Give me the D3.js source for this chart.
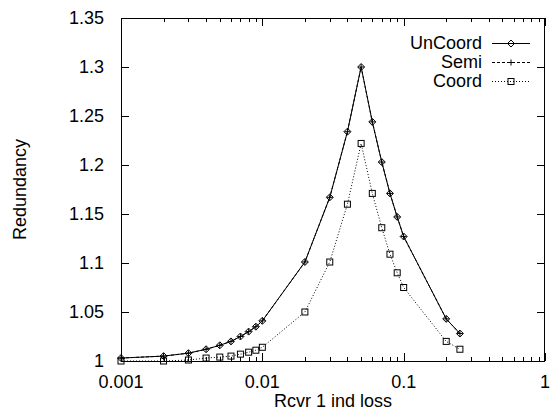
<!DOCTYPE html>
<html>
<head>
<meta charset="utf-8">
<script src="https://cdn.jsdelivr.net/npm/d3@7"></script>
<style>
body { margin: 0; background: #fff; }
svg { display: block; font-family: "Liberation Sans", Arial, sans-serif; }
text { font-size: 18px; fill: #000; }
</style>
</head>
<body>
<div id="chart"></div>
<script>
(function() {

const w = 550;
const h = 410;
const margin = {top: 18, right: 5, bottom: 49, left: 121};

// loss rates on the x axis
const lossRates = [0.001, 0.002, 0.003, 0.004, 0.005, 0.006, 0.007, 0.008, 0.009,
    0.01, 0.02, 0.03, 0.04, 0.05, 0.06, 0.07, 0.08, 0.09, 0.1, 0.2, 0.25];

const unCoord = [1.003, 1.005, 1.008, 1.012, 1.016, 1.020, 1.025, 1.030, 1.035,
    1.041, 1.101, 1.167, 1.234, 1.300, 1.244, 1.203, 1.171, 1.147, 1.127, 1.043, 1.028];
const semi = [1.003, 1.005, 1.008, 1.012, 1.016, 1.020, 1.025, 1.030, 1.035,
    1.041, 1.101, 1.167, 1.234, 1.300, 1.244, 1.203, 1.171, 1.147, 1.127, 1.043, 1.028];
const coord = [1.000, 1.000, 1.001, 1.003, 1.004, 1.005, 1.007, 1.009, 1.011,
    1.014, 1.050, 1.101, 1.160, 1.222, 1.171, 1.136, 1.109, 1.090, 1.075, 1.020, 1.012];

const seriesNames = ["UnCoord", "Semi", "Coord"];
const xTicks = [0.001, 0.01, 0.1, 1];
const xTickLabels = ["0.001", "0.01", "0.1", "1"];
const yTicks = [1, 1.05, 1.1, 1.15, 1.2, 1.25, 1.3, 1.35];
const yTickLabels = ["1", "1.05", "1.1", "1.15", "1.2", "1.25", "1.3", "1.35"];

const series = [
    {name: seriesNames[0], values: unCoord, dash: null, marker: "diamond"},
    {name: seriesNames[1], values: semi, dash: "3,2", marker: "plus"},
    {name: seriesNames[2], values: coord, dash: "1,2", marker: "square"}
];

const xScale = d3.scaleLog()
    .domain([0.001, 1])
    .range([margin.left, w - margin.right]);

const yScale = d3.scaleLinear()
    .domain([1, 1.35])
    .range([h - margin.bottom, margin.top]);

const svg = d3.select("#chart")
    .append("svg")
    .attr("width", w)
    .attr("height", h);

const x0 = margin.left, x1 = w - margin.right;
const y0 = h - margin.bottom, y1 = margin.top;

// minor ticks for log axis
const minorTicks = [];
[0.001, 0.01, 0.1].forEach(function(dec) {
    for (let k = 2; k <= 9; k++) minorTicks.push(dec * k);
});

const ticks = svg.append("g")
    .attr("stroke", "#000")
    .attr("stroke-width", 1);

xTicks.forEach(function(t) {
    const x = Math.round(xScale(t)) + 0.5;
    ticks.append("line").attr("x1", x).attr("x2", x).attr("y1", y0).attr("y2", y0 - 8);
    ticks.append("line").attr("x1", x).attr("x2", x).attr("y1", y1).attr("y2", y1 + 8);
});
minorTicks.forEach(function(t) {
    const x = Math.round(xScale(t)) + 0.5;
    ticks.append("line").attr("x1", x).attr("x2", x).attr("y1", y0).attr("y2", y0 - 4);
    ticks.append("line").attr("x1", x).attr("x2", x).attr("y1", y1).attr("y2", y1 + 4);
});
yTicks.forEach(function(t) {
    const y = Math.round(yScale(t)) + 0.5;
    ticks.append("line").attr("x1", x0).attr("x2", x0 + 8).attr("y1", y).attr("y2", y);
    ticks.append("line").attr("x1", x1).attr("x2", x1 - 8).attr("y1", y).attr("y2", y);
});

// frame
svg.append("rect")
    .attr("x", x0 + 0.5)
    .attr("y", y1 + 0.5)
    .attr("width", x1 - x0 - 1)
    .attr("height", y0 - y1)
    .attr("fill", "none")
    .attr("stroke", "#000");

// tick labels
svg.selectAll(".xlabel")
    .data(xTicks)
    .enter()
    .append("text")
    .attr("class", "xlabel")
    .attr("x", function(d) { return xScale(d); })
    .attr("y", y0 + 27)
    .attr("text-anchor", "middle")
    .text(function(d, i) { return xTickLabels[i]; });

svg.selectAll(".ylabel")
    .data(yTicks)
    .enter()
    .append("text")
    .attr("class", "ylabel")
    .attr("x", x0 - 17)
    .attr("y", function(d) { return yScale(d); })
    .attr("dy", "0.35em")
    .attr("text-anchor", "end")
    .text(function(d, i) { return yTickLabels[i]; });

// axis titles
svg.append("text")
    .attr("x", (x0 + x1) / 2)
    .attr("y", 407)
    .attr("text-anchor", "middle")
    .text("Rcvr 1 ind loss");

svg.append("text")
    .attr("transform", "translate(26," + ((y0 + y1) / 2) + ") rotate(-90)")
    .attr("text-anchor", "middle")
    .text("Redundancy");

function drawMarker(g, type, x, y) {
    if (type == "diamond") {
        g.append("path")
            .attr("d", `M${x},${y-3.5}L${x+3.5},${y}L${x},${y+3.5}L${x-3.5},${y}Z`)
            .attr("fill", "none").attr("stroke", "#000");
    } else if (type == "plus") {
        g.append("path")
            .attr("d", `M${x-3},${y}H${x+3}M${x},${y-3}V${y+3}`)
            .attr("fill", "none").attr("stroke", "#000");
    } else {
        g.append("rect")
            .attr("x", x - 3).attr("y", y - 3)
            .attr("width", 6).attr("height", 6)
            .attr("fill", "none").attr("stroke", "#000");
    }
}

const line = d3.line()
    .x(function(d) { return xScale(d[0]); })
    .y(function(d) { return yScale(d[1]); });

series.slice().reverse().forEach(function(s) {
    const pts = lossRates.map(function(x, i) { return [x, s.values[i]]; });
    const g = svg.append("g");
    g.append("path")
        .datum(pts)
        .attr("d", line)
        .attr("fill", "none")
        .attr("stroke", "#000")
        .attr("stroke-width", 1)
        .attr("stroke-dasharray", s.dash);
    pts.forEach(function(p) {
        drawMarker(g, s.marker, xScale(p[0]), yScale(p[1]));
    });
});

// legend
const legendY = [43, 62, 81];
series.forEach(function(s, i) {
    const y = legendY[i];
    svg.append("text")
        .attr("x", 482)
        .attr("y", y)
        .attr("dy", "0.35em")
        .attr("text-anchor", "end")
        .text(s.name);
    svg.append("line")
        .attr("x1", 492).attr("x2", 530)
        .attr("y1", y + 0.5).attr("y2", y + 0.5)
        .attr("stroke", "#000")
        .attr("stroke-dasharray", s.dash);
    drawMarker(svg, s.marker, 511, y + 0.5);
});

})();
</script>
</body>
</html>
